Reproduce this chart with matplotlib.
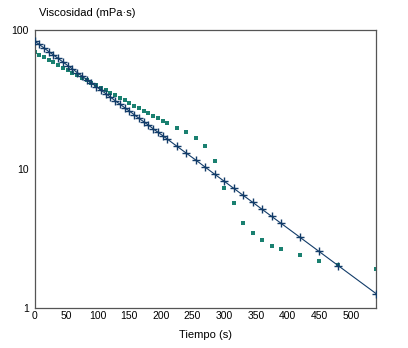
import matplotlib
matplotlib.use("Agg")
import matplotlib.pyplot as plt
from matplotlib.ticker import FixedLocator, NullLocator, FixedFormatter

plt.rcParams['font.family'] = ['Liberation Sans', 'DejaVu Sans']

# Time values (s) for the fitted line series (blue, + markers)
t_line = [0, 7.5, 15, 22.5, 30, 37.5, 45, 52.5, 60, 67.5, 75, 82.5, 90, 97.5,
          105, 112.5, 120, 127.5, 135, 142.5, 150, 157.5, 165, 172.5, 180,
          187.5, 195, 202.5, 210, 225, 240, 255, 270, 285, 300, 315, 330,
          345, 360, 375, 390, 420, 450, 480, 540]
v_line = [83.4, 78.7, 74.2, 70.0, 66.1, 62.4, 58.8, 55.5, 52.4, 49.4, 46.6,
          44.0, 41.5, 39.2, 37.0, 34.9, 32.9, 31.0, 29.3, 27.6, 26.1, 24.6,
          23.2, 21.9, 20.7, 19.5, 18.4, 17.4, 16.4, 14.6, 13.0, 11.6, 10.3,
          9.16, 8.16, 7.26, 6.46, 5.76, 5.12, 4.56, 4.06, 3.22, 2.55, 2.02,
          1.27]

# Measured series (teal squares)
t_meas = [0, 7.5, 15, 22.5, 30, 37.5, 45, 52.5, 60, 67.5, 75, 82.5, 90, 97.5,
          105, 112.5, 120, 127.5, 135, 142.5, 150, 157.5, 165, 172.5, 180,
          187.5, 195, 202.5, 210, 225, 240, 255, 270, 285, 300, 315, 330,
          345, 360, 375, 390, 420, 450, 480, 540]
v_meas = [69.0, 66.2, 63.5, 60.8, 58.4, 56.0, 53.7, 51.4, 49.3, 47.3, 45.4,
          43.5, 41.7, 40.0, 38.4, 36.8, 35.3, 33.8, 32.4, 31.1, 29.8, 28.6,
          27.4, 26.3, 25.2, 24.2, 23.2, 22.2, 21.3, 19.8, 18.4, 16.8, 14.6,
          11.4, 7.3, 5.7, 4.1, 3.45, 3.07, 2.8, 2.67, 2.42, 2.17, 2.05, 1.91]

x_ticks = [0, 50, 100, 150, 200, 250, 300, 350, 400, 450, 500]
y_ticks = [1, 10, 100]
y_tick_labels = ["1", "10", "100"]

navy = "#123c69"
teal = "#1a8070"

fig = plt.figure(figsize=(4.08, 3.48), dpi=100)
ax = fig.add_axes([0.0846, 0.115, 0.8370, 0.7988])

ax.plot(t_meas, v_meas, linestyle='none', marker='s', markersize=3.0,
        color=teal, markeredgewidth=0, zorder=2)
ax.plot(t_line, v_line, color=navy, linewidth=0.8, marker='+',
        markersize=5.5, markeredgewidth=1.0, zorder=3)

ax.set_yscale('log')
ax.set_xlim(0, 540)
ax.set_ylim(1, 100)
ax.xaxis.set_major_locator(FixedLocator(x_ticks))
ax.xaxis.set_minor_locator(NullLocator())
ax.yaxis.set_major_locator(FixedLocator(y_ticks))
ax.yaxis.set_major_formatter(FixedFormatter(y_tick_labels))
ax.yaxis.set_minor_locator(NullLocator())
ax.tick_params(axis='both', length=0, labelsize=7.5, colors='black')
ax.tick_params(axis='x', pad=2)
ax.tick_params(axis='y', pad=4)

for s in ax.spines.values():
    s.set_color('#555555')
    s.set_linewidth(0.9)

ax.set_xlabel("Tiempo (s)", fontsize=8, labelpad=7)
fig.text(39 / 408, 1 - 13 / 348, "Viscosidad (mPa·s)", fontsize=8,
         ha='left', va='center')

fig.savefig("out.png", dpi=100)
